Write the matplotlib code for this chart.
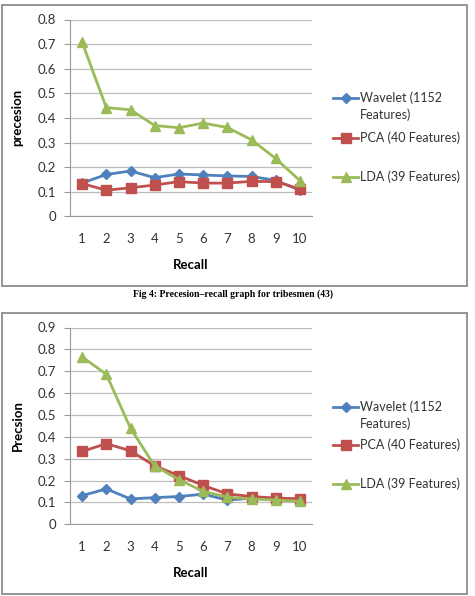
import matplotlib.pyplot as plt
from matplotlib.patches import Rectangle
from matplotlib.lines import Line2D

recall = [1, 2, 3, 4, 5, 6, 7, 8, 9, 10]

# top chart
wavelet1 = [0.135, 0.170, 0.184, 0.157, 0.172, 0.168, 0.164, 0.162, 0.146, 0.106]
pca1 = [0.133, 0.106, 0.116, 0.127, 0.141, 0.135, 0.135, 0.142, 0.141, 0.111]
lda1 = [0.708, 0.442, 0.433, 0.369, 0.360, 0.379, 0.361, 0.311, 0.235, 0.145]

# bottom chart
wavelet2 = [0.131, 0.162, 0.116, 0.122, 0.127, 0.138, 0.111, 0.119, 0.116, 0.108]
pca2 = [0.333, 0.369, 0.336, 0.267, 0.223, 0.178, 0.139, 0.127, 0.120, 0.117]
lda2 = [0.766, 0.686, 0.439, 0.267, 0.204, 0.151, 0.124, 0.116, 0.111, 0.105]

labels = ["Wavelet (1152\nFeatures)", "PCA (40 Features)", "LDA (39 Features)"]
caption = "Fig 4: Precesion\u2013recall graph for tribesmen (43)"

W, H = 475, 596
fig = plt.figure(figsize=(W / 100, H / 100), dpi=100)
plt.rcParams['font.family'] = ['Lato', 'DejaVu Sans']

blue = "#4F81BD"
red = "#C0504D"
green = "#9BBB59"
styles = [(blue, "D", 5.5), (red, "s", 7), (green, "^", 7)]


def px_box(x0, y0, x1, y1):
    return [x0 / W, 1 - y1 / H, (x1 - x0) / W, (y1 - y0) / H]


def fy(y):
    return 1 - y / H


def draw_chart(top, ymax, ylabel, series, leg_y):
    # outer frame of the chart
    fig.patches.append(Rectangle((1.5 / W, 1 - (top + 281) / H), 465.5 / W, 281 / H,
                                 transform=fig.transFigure, fill=False,
                                 edgecolor="#8C8C8C", lw=1.3))
    ax = fig.add_axes(px_box(70, top + 14.5, 312, top + 211.3))
    for vals, (c, m, ms), lab in zip(series, styles, labels):
        ax.plot(recall, vals, color=c, marker=m, ms=ms, lw=2, label=lab)
    ax.set_xlim(0.5, 10.5)
    ax.set_ylim(0, ymax)
    n = int(round(ymax * 10))
    ax.set_yticks([i / 10 for i in range(n + 1)])
    ax.set_yticklabels(["0"] + ["%.1f" % (i / 10) for i in range(1, n + 1)])
    ax.set_xticks(recall)
    ax.yaxis.grid(True, color="#BDBDBD", lw=0.9)
    ax.set_axisbelow(True)
    for s in ["top", "right"]:
        ax.spines[s].set_visible(False)
    for s in ["left", "bottom"]:
        ax.spines[s].set_color("#9A9A9A")
    ax.tick_params(axis="y", length=4, color="#9A9A9A", labelsize=9.5,
                   labelcolor="#333333", pad=6)
    ax.tick_params(axis="x", length=0, labelsize=9.5, labelcolor="#333333", pad=12)
    ax.set_xlabel("Recall", fontsize=9.5, fontweight="bold", labelpad=10)
    ax.set_ylabel(ylabel, fontsize=9.5, fontweight="bold", labelpad=10)

    # legend entries placed like the Excel legend
    for y, (c, m, ms), lab in zip(leg_y, styles, labels):
        fig.lines.append(Line2D([333 / W, 358 / W], [fy(y), fy(y)], color=c, lw=2,
                                transform=fig.transFigure))
        fig.lines.append(Line2D([345.5 / W], [fy(y)], color=c, marker=m, ms=ms,
                                transform=fig.transFigure))
        fig.text(360 / W, fy(y - 6.5), lab, ha="left", va="top", fontsize=9,
                 color="#333333", linespacing=1.4)
    return ax


draw_chart(5, 0.8, "precesion", [wavelet1, pca1, lda1], [98, 138, 177])
fig.text(233 / W, fy(294), caption, ha="center", va="center",
         fontsize=7, fontweight="bold", family="Liberation Serif")
draw_chart(313, 0.9, "Precsion", [wavelet2, pca2, lda2], [407, 445, 484])

fig.savefig("out.png", dpi=100)
